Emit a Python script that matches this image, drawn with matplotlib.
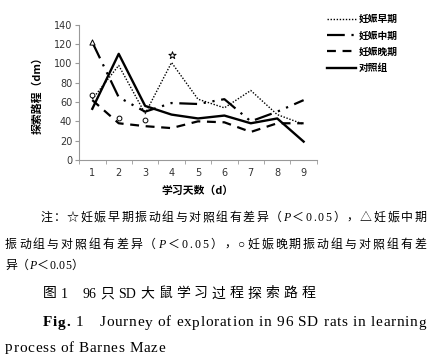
import re
import matplotlib.pyplot as plt
import numpy as np

# data
days = [1, 2, 3, 4, 5, 6, 7, 8, 9]
early = [63, 98, 48, 101, 63, 54, 72, 47, 37]
mid = [122, 65, 50, 59, 58, 63, 40, 50, 62]
late = [62, 38, 35, 33, 40, 39, 29, 38, 38]
control = [53, 110, 56, 47, 43, 46, 38, 43, 19]
labels = ['妊娠早期', '妊娠中期', '妊娠晚期', '对照组']

# significance marks
star_x, star_y = [4], [109]
tri_x, tri_y = [1], [122]
circ_x, circ_y = [1, 2, 3], [67, 43, 41]

cjk = ['Noto Sans CJK SC', 'DejaVu Sans']
serif = ['Liberation Serif', 'Noto Sans CJK SC']
plt.rcParams['font.family'] = cjk

W, H = 437, 361
fig = plt.figure(figsize=(W / 100, H / 100), dpi=100)
ax = fig.add_axes([0.181, 0.557, 0.544, 0.374])

ax.plot(days, early, color='black', lw=1.0, ls=(0, (1, 1.2)), label=labels[0])
ax.plot(days, mid, color='black', lw=1.6, ls=(0, (8, 3, 1, 3, 1, 3)), label=labels[1])
ax.plot(days, late, color='black', lw=1.6, ls=(0, (4, 3)), label=labels[2])
ax.plot(days, control, color='black', lw=1.7, ls='-', label=labels[3])

ax.scatter(star_x, star_y, marker='*', s=30, facecolors='white', edgecolors='black', linewidths=0.7, zorder=5)
ax.scatter(tri_x, tri_y, marker='^', s=14, facecolors='white', edgecolors='black', linewidths=0.7, zorder=5)
ax.scatter(circ_x, circ_y, marker='o', s=12, facecolors='white', edgecolors='black', linewidths=0.7, zorder=5)

ax.set_xlim(0.5, 9.5)
ax.set_ylim(0, 140)
ax.set_xticks(days)
ax.set_xticks(np.arange(0.5, 10, 1), minor=True)
ax.set_yticks(range(0, 141, 20))
ax.tick_params(axis='x', which='major', length=0, labelsize=7, pad=6)
ax.tick_params(axis='x', which='minor', length=3, color='#999999', direction='out')
ax.tick_params(axis='y', length=3, color='#999999', labelsize=7, pad=2)
for lab in ax.get_xticklabels() + ax.get_yticklabels():
    lab.set_family(['DejaVu Sans'])
    lab.set_color('#333333')
for s in ['top', 'right']:
    ax.spines[s].set_visible(False)
for s in ['left', 'bottom']:
    ax.spines[s].set_color('#999999')
    ax.spines[s].set_linewidth(0.8)

ax.set_xlabel('学习天数（d）', fontsize=7.8, fontweight='bold', labelpad=5)
ax.set_ylabel('探索路程（dm）', fontsize=7.8, fontweight='bold', labelpad=8)

fig.legend(loc='upper left', bbox_to_anchor=(0.728, 0.985), frameon=False,
           handlelength=3.0, handletextpad=0.3, labelspacing=0.65,
           prop={'weight': 'bold', 'size': 7, 'family': cjk})

# caption text, drawn piece by piece so lines can be justified
renderer = fig.canvas.get_renderer()


def line(x0, y, segs, x1=None, size=8.6, pattern=r' +|.'):
    items = []  # (text or None for space, width)
    for txt, kw in segs:
        for tok in re.findall(pattern, txt):
            if tok.strip() == '':
                items.append((None, len(tok) * size * 0.25 * 100 / 72))
                continue
            t = fig.text(0, 0, tok, family=serif, fontsize=size, va='center', **kw)
            items.append((t, t.get_window_extent(renderer).width))
    total = sum(w for _, w in items)
    gap = 0 if x1 is None else (x1 - x0 - total) / (len(items) - 1)
    x = x0
    for t, w in items:
        if t is not None:
            t.set_position((x / W, 1 - y / H))
        x += w + gap


N = {}
I = {'style': 'italic'}
line(40, 218, [('注：☆妊娠早期振动组与对照组有差异（', N), ('P', I), ('＜0.05），△妊娠中期', N)], x1=426)
line(5, 245, [('振动组与对照组有差异（', N), ('P', I), ('＜0.05），○妊娠晚期振动组与对照组有差', N)], x1=426)
line(5, 266, [('异（', N), ('P', I), ('＜0.05）', N)], x1=83)
line(43, 294, [('图1  96只SD大鼠学习过程探索路程', N)], x1=315, size=10,
     pattern=r'[A-Za-z0-9]+| +|.')
line(43, 323, [('Fig.', {'weight': 'bold'}), (' 1    Journey of exploration in 96 SD rats in learning', N)],
     x1=426, size=11)
line(5, 348, [('process of Barnes Maze', N)], x1=165, size=11)

fig.savefig('out.png', dpi=100)
